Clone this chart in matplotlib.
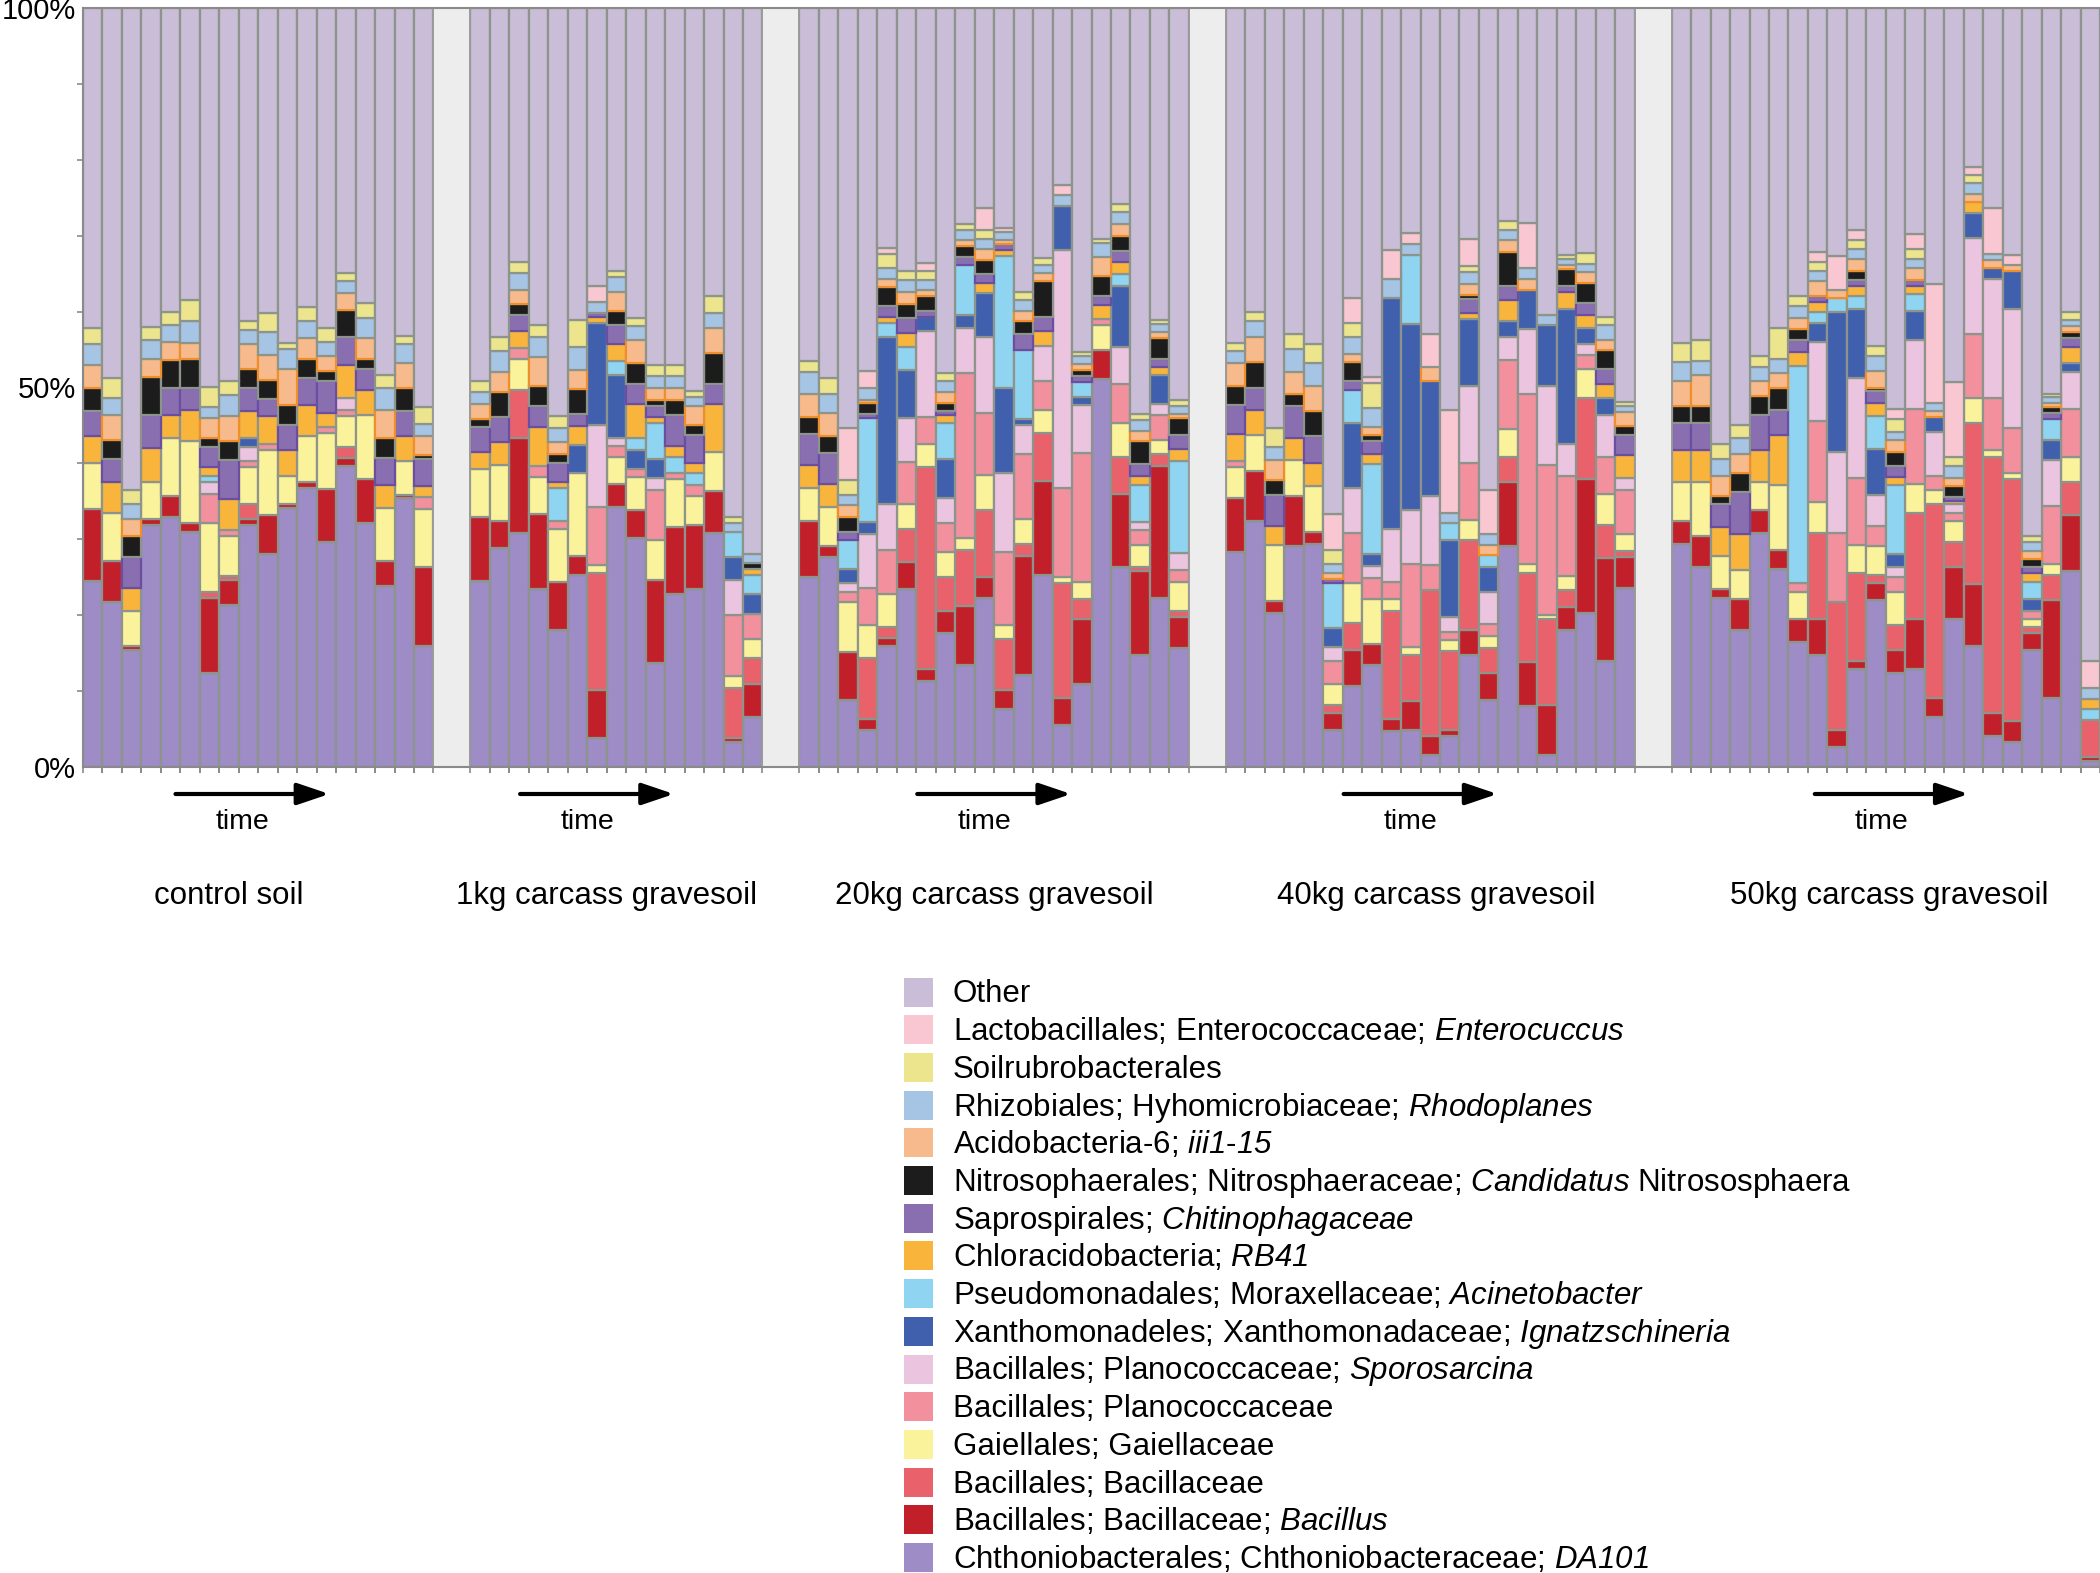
"""Stacked relative-abundance bars for control soil and four gravesoil treatments."""

import matplotlib

matplotlib.use("Agg")

import matplotlib.pyplot as plt
import numpy as np
from matplotlib import transforms
from matplotlib.patches import Rectangle

plt.rcParams["font.family"] = ["Liberation Sans", "DejaVu Sans"]
plt.rcParams["mathtext.fontset"] = "custom"
plt.rcParams["mathtext.rm"] = "Liberation Sans"
# \mathsf is used for italics so that digits stay italic too
plt.rcParams["mathtext.sf"] = "Liberation Sans:italic"

GROUPS = ["control soil", "1kg carcass gravesoil", "20kg carcass gravesoil",
          "40kg carcass gravesoil", "50kg carcass gravesoil"]
GROUP_SIZES = [18, 15, 20, 21, 22]

# relative abundance (%) per sample, groups in order, series from bottom to top
DA101 = [24.5, 21.7, 15.4, 31.9, 33.0, 31.0, 12.4, 21.4, 31.9, 28.0, 34.1, 36.8, 29.7, 39.6, 32.1, 23.9, 35.4, 15.9,
         24.5, 28.8, 30.8, 23.4, 18.1, 25.3, 3.8, 34.3, 30.2, 13.7, 22.8, 23.4, 30.8, 3.3, 6.6,
         25.0, 27.7, 8.8, 4.9, 15.9, 23.4, 11.3, 17.6, 13.5, 22.3, 7.7, 12.1, 25.3, 5.5, 11.0, 51.1, 26.4, 14.8, 22.3, 15.7,
         28.3, 32.4, 20.3, 29.1, 29.4, 4.9, 10.7, 13.5, 4.7, 4.9, 1.6, 4.1, 14.8, 8.8, 29.1, 8.0, 1.6, 18.1, 20.3, 14.0, 23.6,
         29.4, 26.4, 22.3, 18.1, 30.8, 26.1, 16.5, 14.8, 2.7, 12.9, 22.0, 12.4, 12.9, 6.6, 19.5, 15.9, 4.1, 3.3, 15.4, 9.1, 25.8, 0.8]
BACILLUS = [9.5, 5.5, 0.5, 0.8, 2.7, 1.1, 9.9, 3.3, 0.8, 5.2, 0.5, 0.8, 6.9, 1.1, 5.8, 3.3, 0.5, 10.4,
            8.5, 3.6, 12.6, 9.9, 6.3, 2.5, 6.3, 3.0, 3.6, 11.0, 8.8, 8.5, 5.5, 0.5, 4.4,
            7.4, 1.4, 6.3, 1.4, 1.1, 3.6, 1.6, 3.0, 7.7, 2.7, 2.5, 15.7, 12.4, 3.6, 8.5, 3.8, 9.6, 11.0, 17.3, 4.1,
            7.1, 6.6, 1.6, 6.6, 1.6, 2.2, 4.7, 2.7, 1.6, 3.8, 2.5, 0.8, 3.3, 3.6, 8.5, 5.8, 6.6, 3.0, 17.6, 13.5, 4.1,
            3.0, 4.1, 1.1, 4.1, 3.0, 2.5, 3.0, 4.7, 2.2, 1.1, 2.2, 3.0, 6.6, 2.5, 6.9, 8.2, 3.0, 2.7, 2.2, 12.9, 7.4, 0.5]
BACILLACEAE = [0, 0, 0, 0, 0, 0, 0.8, 0.5, 1.9, 0, 0, 0, 0, 1.4, 0, 0, 0, 0,
               0, 0, 6.3, 0, 0, 0, 15.4, 0, 0, 0, 0, 0, 0, 6.6, 3.3,
               0, 0, 0, 8.0, 1.4, 4.4, 26.6, 4.4, 7.4, 8.8, 6.6, 1.6, 6.3, 15.1, 2.7, 0, 4.9, 0.5, 1.6, 0.8,
               0, 0, 0, 0, 0, 1.1, 3.6, 0, 14.3, 6.0, 19.2, 10.4, 11.8, 3.3, 3.3, 11.8, 11.3, 2.2, 10.7, 4.4, 0.8,
               0, 0, 0, 0, 0, 0, 0, 11.3, 16.8, 11.5, 1.1, 3.3, 14.0, 25.5, 3.3, 21.2, 33.8, 31.9, 0.8, 3.3, 4.4, 4.9]
GAIELLACEAE = [6.0, 6.3, 4.7, 4.9, 7.7, 10.8, 9.1, 5.2, 4.9, 8.5, 3.8, 6.0, 7.4, 4.1, 8.5, 6.9, 4.4, 7.7,
               6.3, 7.4, 4.1, 4.9, 6.9, 11.0, 1.1, 3.6, 4.4, 5.2, 6.3, 3.8, 5.2, 1.6, 2.5,
               4.4, 5.2, 6.6, 4.4, 4.4, 3.3, 3.0, 3.3, 1.6, 4.7, 1.9, 3.3, 3.0, 0.8, 2.2, 3.3, 4.4, 3.0, 1.9, 3.8,
               4.1, 4.7, 7.4, 4.7, 6.0, 2.7, 5.2, 6.0, 1.6, 1.1, 0, 1.4, 2.7, 1.6, 3.6, 1.1, 0.5, 1.9, 3.8, 4.1, 2.2,
               5.2, 7.1, 4.4, 3.8, 3.8, 8.5, 3.6, 4.1, 0, 3.8, 3.8, 4.4, 3.8, 1.9, 2.7, 3.3, 0.8, 0.8, 1.1, 1.4, 3.3, 0]
PLANOCOCCACEAE = [0, 0, 0, 0, 0, 0, 3.8, 0.8, 0.8, 0.8, 0, 0, 0.8, 0.8, 0, 0, 0, 1.6,
                  0, 0, 1.4, 1.4, 1.1, 0, 7.7, 1.4, 1.1, 6.6, 0.8, 1.4, 0, 8.0, 3.3,
                  0, 0, 1.4, 4.9, 5.8, 5.5, 3.6, 3.8, 21.7, 8.2, 9.6, 8.5, 3.8, 11.8, 17.0, 0.8, 5.2, 1.9, 3.3, 1.6,
                  0.8, 0, 0, 0, 0, 3.0, 6.6, 2.7, 2.2, 11.0, 3.3, 1.1, 7.4, 1.6, 9.1, 22.5, 19.8, 13.2, 1.9, 4.9, 5.8,
                  0, 0, 0, 0, 0, 0, 1.1, 10.7, 9.1, 8.8, 2.7, 1.9, 9.9, 1.9, 1.1, 8.5, 6.9, 6.0, 1.1, 7.7, 6.3, 0]
SPOROSARCINA = [0, 0, 0, 0, 0, 0, 1.6, 0, 1.9, 0, 0, 0, 0, 1.6, 0, 0, 0, 0,
                0, 0, 0, 0, 0, 0, 10.7, 1.1, 0, 1.6, 0, 0, 0, 4.7, 0,
                0, 0, 1.1, 7.1, 6.0, 5.8, 11.3, 3.3, 6.0, 9.9, 10.4, 3.8, 4.7, 31.3, 6.3, 0, 4.9, 1.1, 1.4, 2.2,
                0, 0, 0, 0, 0, 1.9, 6.0, 1.6, 6.9, 7.1, 9.1, 1.9, 10.2, 4.1, 3.0, 8.5, 10.4, 4.1, 1.4, 5.5, 1.6,
                0, 0, 0, 0, 0, 0, 0, 10.4, 10.7, 13.2, 4.1, 1.4, 9.1, 5.8, 1.1, 12.6, 15.7, 15.7, 0, 6.0, 4.9, 0]
IGNATZSCHINERIA = [0, 0, 0, 0, 0, 0, 0, 0, 1.1, 0, 0, 0, 0, 0, 0, 0, 0, 0,
                   0, 0, 0, 0, 0, 3.6, 13.5, 8.2, 2.5, 2.5, 0, 0, 0, 3.0, 2.7,
                   0, 0, 1.9, 1.6, 22.0, 6.3, 1.9, 5.2, 1.6, 5.8, 11.3, 0.8, 0, 5.8, 1.1, 0, 8.0, 0, 3.8, 0,
                   0, 0, 0, 0, 0, 2.5, 8.5, 1.6, 30.5, 24.5, 15.1, 10.2, 8.8, 3.3, 2.2, 5.2, 8.0, 17.9, 2.2, 2.2, 0,
                   0, 0, 0, 0, 0, 0, 0, 2.5, 18.4, 9.1, 6.0, 1.6, 3.8, 1.9, 0, 3.3, 1.4, 4.9, 1.6, 2.7, 1.1, 0]
ACINETOBACTER = [0, 0, 0, 0, 0, 0, 0.8, 0, 0, 0, 0, 0, 0, 0, 0, 0, 0, 0,
                 0, 0, 0, 0, 4.4, 0, 0, 1.9, 1.6, 4.7, 2.2, 1.6, 0, 3.3, 2.5,
                 0, 0, 3.8, 13.7, 1.9, 3.0, 0, 4.7, 6.6, 0, 17.3, 9.1, 0, 0, 1.9, 0, 1.6, 4.9, 0, 12.1,
                 0, 0, 0, 0, 0, 6.0, 4.4, 11.8, 0, 9.1, 0, 2.2, 0, 1.6, 0, 0, 0, 0, 0, 0, 0,
                 0, 0, 0, 0, 0, 0, 28.6, 1.4, 1.9, 1.6, 4.4, 9.1, 2.2, 0, 0, 0, 0, 0, 2.2, 2.7, 0, 1.4]
RB41 = [3.6, 4.1, 3.0, 4.4, 3.0, 4.1, 1.1, 4.1, 3.6, 3.8, 3.3, 4.1, 1.9, 4.4, 3.3, 3.0, 3.3, 1.4,
        2.2, 3.0, 2.2, 5.2, 0.8, 2.5, 0.8, 2.2, 4.4, 0.8, 1.4, 1.4, 6.3, 0, 0.8,
        3.0, 3.0, 0, 0, 0.8, 1.9, 0, 1.1, 0, 1.4, 0.8, 0, 1.9, 0, 0, 1.9, 1.6, 1.1, 1.1, 1.6,
        3.6, 3.3, 2.5, 3.0, 3.0, 0, 0, 1.4, 0, 0, 0, 0, 0.8, 0, 2.7, 0, 0, 2.2, 1.6, 1.9, 3.0,
        4.1, 4.1, 3.8, 4.7, 4.1, 6.6, 1.9, 1.4, 0, 1.4, 1.6, 1.1, 1.1, 0, 0.5, 1.4, 0, 0, 1.1, 0, 2.2, 1.4]
CHITINOPHAGACEAE = [3.3, 3.0, 4.1, 4.4, 3.6, 3.0, 2.7, 5.2, 3.0, 2.2, 3.3, 3.6, 4.1, 3.6, 2.7, 3.6, 3.3, 3.6,
                    3.3, 3.3, 2.2, 2.7, 2.5, 1.6, 0.5, 2.5, 2.7, 1.4, 4.1, 3.6, 2.7, 0, 0,
                    4.1, 4.1, 1.1, 0.5, 1.4, 1.9, 0.8, 0.5, 1.1, 1.1, 0.8, 2.2, 1.9, 0, 0.8, 1.1, 1.4, 1.6, 1.1, 1.9,
                    3.8, 3.0, 4.1, 4.1, 3.6, 0.5, 1.1, 1.6, 0, 0, 0, 0, 1.9, 0, 1.9, 0, 0, 0.8, 1.6, 1.9, 2.7,
                    3.6, 3.6, 3.0, 5.5, 4.7, 3.3, 1.6, 0.8, 0, 0.8, 1.6, 1.4, 0.8, 0, 0.5, 0, 0, 0, 0.8, 0.8, 1.1, 0]
NITROSOSPHAERA = [3.0, 2.5, 2.8, 5.0, 3.6, 3.8, 1.1, 2.5, 2.5, 2.5, 2.7, 2.5, 1.4, 3.6, 1.4, 2.7, 3.0, 0.5,
                  1.1, 3.3, 1.4, 2.7, 1.1, 3.3, 0, 1.9, 2.7, 0.8, 1.9, 1.4, 4.1, 0, 0.8,
                  2.2, 2.2, 1.9, 1.4, 2.5, 1.9, 1.9, 1.1, 1.4, 1.9, 0, 1.6, 4.7, 0, 0.8, 2.7, 1.9, 3.0, 2.7, 2.2,
                  2.5, 3.3, 1.9, 1.6, 3.3, 0, 2.5, 0.8, 0, 0, 0, 0, 0.5, 0, 4.4, 0, 0, 2.2, 2.7, 2.5, 1.1,
                  2.2, 2.2, 1.1, 2.5, 2.5, 3.0, 1.4, 0, 0, 1.1, 0.5, 1.9, 0, 0, 1.4, 0, 0, 0, 1.1, 0.8, 0.8, 0]
III1_15 = [3.0, 3.3, 2.2, 2.4, 2.4, 2.0, 2.7, 3.3, 3.3, 3.3, 4.7, 2.7, 1.9, 2.2, 2.7, 3.6, 3.3, 2.5,
           1.9, 2.7, 1.9, 3.8, 1.6, 2.5, 0, 2.5, 3.0, 1.6, 1.6, 2.5, 3.3, 0, 0,
           3.0, 3.0, 1.6, 0.5, 1.1, 1.6, 0.8, 1.4, 0.8, 1.4, 0.5, 1.4, 1.1, 0, 0.8, 2.5, 1.6, 1.4, 0.8, 0.5,
           3.0, 3.3, 2.7, 3.0, 3.3, 0.8, 1.1, 1.1, 0, 0, 1.9, 0, 1.4, 1.4, 1.6, 1.4, 0, 0.5, 1.4, 1.4, 1.9,
           3.3, 4.1, 2.7, 2.5, 1.9, 1.9, 1.4, 1.9, 1.1, 1.6, 2.2, 1.6, 1.6, 0.8, 1.1, 1.1, 1.1, 0.8, 1.1, 0.5, 0.8, 0]
RHODOPLANES = [2.8, 2.2, 1.9, 2.5, 2.2, 3.0, 1.4, 2.7, 1.9, 3.0, 2.7, 2.2, 1.9, 1.6, 2.7, 3.0, 2.5, 1.6,
               1.6, 2.7, 2.2, 2.7, 1.9, 3.0, 1.4, 1.9, 1.9, 1.6, 1.6, 1.1, 1.9, 1.1, 1.1,
               3.0, 2.5, 1.4, 1.6, 1.4, 1.6, 1.4, 1.4, 1.4, 1.4, 1.1, 1.4, 1.1, 1.4, 1.1, 1.9, 1.6, 1.4, 1.1, 1.1,
               1.6, 2.2, 1.6, 3.0, 3.0, 1.1, 2.2, 2.5, 2.5, 1.4, 0, 1.4, 1.6, 1.4, 1.4, 1.4, 1.4, 0.8, 1.1, 1.9, 0.8,
               2.5, 1.9, 2.2, 2.2, 1.9, 1.9, 1.6, 1.4, 0, 1.4, 1.9, 1.1, 1.1, 1.1, 1.6, 1.4, 0.8, 0, 1.1, 0.8, 0.8, 1.4]
SOILRUBROBACTERALES = [2.2, 2.7, 1.9, 1.7, 1.7, 2.7, 2.7, 1.9, 1.1, 2.5, 0.8, 1.9, 1.9, 1.1, 1.9, 1.6, 1.1, 2.2,
                       1.4, 1.9, 1.4, 1.6, 1.6, 3.6, 0, 0.8, 1.1, 1.4, 1.4, 0.8, 2.2, 0.8, 0,
                       1.4, 2.2, 1.9, 0, 1.9, 1.1, 1.1, 1.1, 0.8, 1.1, 0, 1.1, 0.8, 0, 0.5, 0.5, 1.1, 0.8, 0.5, 0.8,
                       1.1, 1.1, 2.5, 1.9, 2.5, 1.9, 1.9, 3.3, 0, 0, 0, 0, 0.8, 0, 1.1, 0, 0, 0.5, 1.4, 1.1, 0.5,
                       2.5, 2.7, 1.9, 1.6, 1.4, 4.1, 1.4, 1.1, 0, 1.1, 1.4, 1.6, 1.4, 0, 1.1, 1.1, 0, 0, 0.8, 0.5, 1.1, 0]
ENTEROCOCCUS = [0, 0, 0, 0, 0, 0, 0, 0, 0, 0, 0, 0, 0, 0, 0, 0, 0, 0,
                0, 0, 0, 0, 0, 0, 2.2, 0, 0, 0, 0, 0, 0, 0, 0,
                0, 0, 6.9, 2.2, 0.8, 0, 1.1, 0, 0, 3.0, 0.5, 0, 0, 1.4, 0, 0, 0, 0, 0, 0,
                0, 0, 0, 0, 0, 4.7, 3.3, 0.8, 3.8, 1.4, 4.4, 13.5, 3.6, 5.8, 0, 6.0, 0, 0, 0, 0, 0,
                0, 0, 0, 0, 0, 0, 0, 1.4, 4.4, 1.4, 0, 1.4, 1.9, 15.7, 9.9, 1.1, 6.0, 1.4, 0, 0, 0, 3.6]

EDGE = "#8d948b"
# (values, fill, edge, legend label), bottom to top
SERIES = [
    (DA101, "#9d8cc6", EDGE, r"Chthoniobacterales; Chthoniobacteraceae; $\mathsf{DA101}$"),
    (BACILLUS, "#c1202b", EDGE, r"Bacillales; Bacillaceae; $\mathsf{Bacillus}$"),
    (BACILLACEAE, "#e8616b", EDGE, "Bacillales; Bacillaceae"),
    (GAIELLACEAE, "#fbf29c", EDGE, "Gaiellales; Gaiellaceae"),
    (PLANOCOCCACEAE, "#f2909e", EDGE, "Bacillales; Planococcaceae"),
    (SPOROSARCINA, "#ebc4e0", EDGE, r"Bacillales; Planococcaceae; $\mathsf{Sporosarcina}$"),
    (IGNATZSCHINERIA, "#4060ae", EDGE, r"Xanthomonadeles; Xanthomonadaceae; $\mathsf{Ignatzschineria}$"),
    (ACINETOBACTER, "#8fd4f0", EDGE, r"Pseudomonadales; Moraxellaceae; $\mathsf{Acinetobacter}$"),
    (RB41, "#f9b43c", EDGE, r"Chloracidobacteria; $\mathsf{RB41}$"),
    (CHITINOPHAGACEAE, "#8a6fb0", "#6a4ea2", r"Saprospirales; $\mathsf{Chitinophagaceae}$"),
    (NITROSOSPHAERA, "#1c1c1c", EDGE,
     r"Nitrosophaerales; Nitrosphaeraceae; $\mathsf{Candidatus}$ Nitrososphaera"),
    (III1_15, "#f7ba8c", "#ee8f2b", r"Acidobacteria-6; $\mathsf{iii1}$-$\mathsf{15}$"),
    (RHODOPLANES, "#a6c4e4", EDGE, r"Rhizobiales; Hyhomicrobiaceae; $\mathsf{Rhodoplanes}$"),
    (SOILRUBROBACTERALES, "#ece58e", EDGE, "Soilrubrobacterales"),
    (ENTEROCOCCUS, "#f8c7d2", EDGE, r"Lactobacillales; Enterococcaceae; $\mathsf{Enterocuccus}$"),
]
OTHER_COLOR = "#c9bdd7"
GAP = 1.9

n_bars = sum(GROUP_SIZES)
for values, *_ in SERIES:
    assert len(values) == n_bars

fig = plt.figure(figsize=(21, 15.73), dpi=100)
ax = fig.add_axes([83 / 2100, 1 - 767 / 1573, 1 - 83 / 2100, (767 - 8) / 1573])

lefts, spans, start = [], [], 0.0
for n in GROUP_SIZES:
    lefts.extend(start + np.arange(n))
    spans.append((start, start + n))
    start += n + GAP
lefts = np.array(lefts)
x_max = start - GAP

bottom = np.zeros(n_bars)
for values, color, edge, _ in SERIES:
    v = np.array(values, dtype=float)
    ax.bar(lefts, v, width=1, bottom=bottom, align="edge", color=color,
           edgecolor=edge, linewidth=np.where(v > 0, 1.6, 0))
    bottom += v
ax.bar(lefts, 100 - bottom, width=1, bottom=bottom, align="edge", color=OTHER_COLOR,
       edgecolor=EDGE, linewidth=1.6)

for (_, end), (nxt, _) in zip(spans[:-1], spans[1:]):
    ax.bar(end, 100, width=nxt - end, align="edge", color="#ededed",
           edgecolor="#9a9a9a", linewidth=1.4)

ax.set_xlim(0, x_max)
ax.set_ylim(0, 100)
ax.set_yticks([0, 50, 100], ["0%", "50%", "100%"], fontsize=21)
ax.set_yticks(np.arange(10, 100, 10), minor=True)
ax.set_xticks([])
ax.set_xticks(np.concatenate([lefts, lefts + 1]), minor=True)
ax.tick_params(axis="y", which="major", length=0, pad=5)
ax.tick_params(axis="both", which="minor", length=4, width=1.2, color="#8a8a8a")
for side in ("left", "bottom", "top"):
    ax.spines[side].set_color("#8a8a8a")
    ax.spines[side].set_linewidth(1.5)
ax.spines["right"].set_visible(False)

trans = transforms.blended_transform_factory(ax.transData, fig.transFigure)
arrow_dx = [-0.3, -1.0, 0.0, -0.5, 0.3]
label_dx = [-1.5, -0.5, 0.0, 0.3, 0.2]
for (s, e), name, adx, ldx in zip(spans, GROUPS, arrow_dx, label_dx):
    mid = (s + e) / 2
    ax.annotate("", xy=(mid + adx + 3.95, 1 - 794 / 1573), xytext=(mid + adx - 3.95, 1 - 794 / 1573),
                xycoords=trans, textcoords=trans, annotation_clip=False,
                arrowprops=dict(arrowstyle="-|>,head_length=0.65,head_width=0.22", lw=3,
                                color="black", mutation_scale=30, shrinkA=0, shrinkB=0))
    ax.text(mid + adx - 0.5, 1 - 822 / 1573, "time", transform=trans, ha="center",
            va="center", fontsize=20.5)
    ax.text(mid + ldx, 1 - 896 / 1573, name, transform=trans, ha="center", va="center",
            fontsize=22.5)

# legend, top entry first
row_step, first_row = 37.7, 992
entries = [(OTHER_COLOR, "Other")] + [(c, lab) for _, c, _, lab in reversed(SERIES)]
for i, (color, label) in enumerate(entries):
    yc = 1 - (first_row + row_step * i) / 1573
    fig.patches.append(Rectangle((904 / 2100, yc - 14.5 / 1573), 29 / 2100, 29 / 1573,
                                 facecolor=color, edgecolor="none", transform=fig.transFigure))
    fig.text(953 / 2100, yc - 10.5 / 1573, label, fontsize=22.5, va="baseline", ha="left")

fig.savefig("out.png", dpi=100)
